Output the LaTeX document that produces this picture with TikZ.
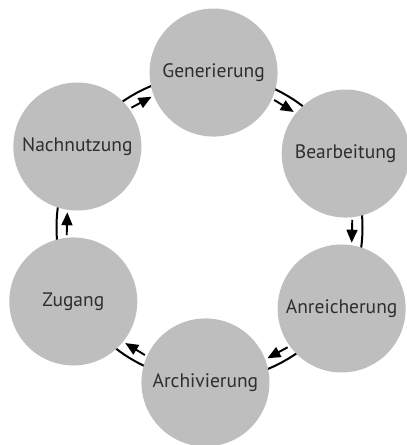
\documentclass[tikz,border=0pt]{standalone}
\usepackage{fontspec}
\setmainfont{PT Sans}
\usetikzlibrary{arrows.meta,calc}
\definecolor{discgray}{HTML}{BEBEBE}
\definecolor{txtgray}{HTML}{2E2E2E}
\begin{document}
\begin{tikzpicture}[x=1pt,y=1pt,
  disc/.style={circle,fill=discgray,minimum size=128pt,inner sep=0pt,text=txtgray,font=\fontsize{19.5}{22}\selectfont},
  ring/.style={line width=2pt,black},
  flow/.style={line width=1.9pt,-{Triangle[width=11pt,length=13pt]}}]
\useasboundingbox (0,0) rectangle (407,445);
\clip (0,0) rectangle (407,445);
\coordinate (c) at (209.5,217.5);
\draw[ring] (c) circle (153);
\node[disc] (g)  at ($(c)+(88.5:155)$)  {Generierung};
\node[disc] (b)  at ($(c)+(28.5:155)$)  {Bearbeitung};
\node[disc] (a)  at ($(c)+(-31.5:155)$) {Anreicherung};
\node[disc] (ar) at ($(c)+(-91.5:155)$) {Archivierung};
\node[disc] (z)  at ($(c)+(-151.5:155)$) {Zugang};
\node[disc] (n)  at ($(c)+(148.5:155)$) {Nachnutzung};
\foreach \m/\k in {58.5/1,-1.5/2,-61.5/3,-121.5/4,178.5/5,118.5/6}{
  \coordinate (s\k) at ($(c)+(\m+4.6:143)$);
  \coordinate (e\k) at ($(c)+(\m-4.6:143)$);
}
\foreach \k in {1,...,6}{\draw[flow] (s\k) -- (e\k);}
\end{tikzpicture}
\end{document}
